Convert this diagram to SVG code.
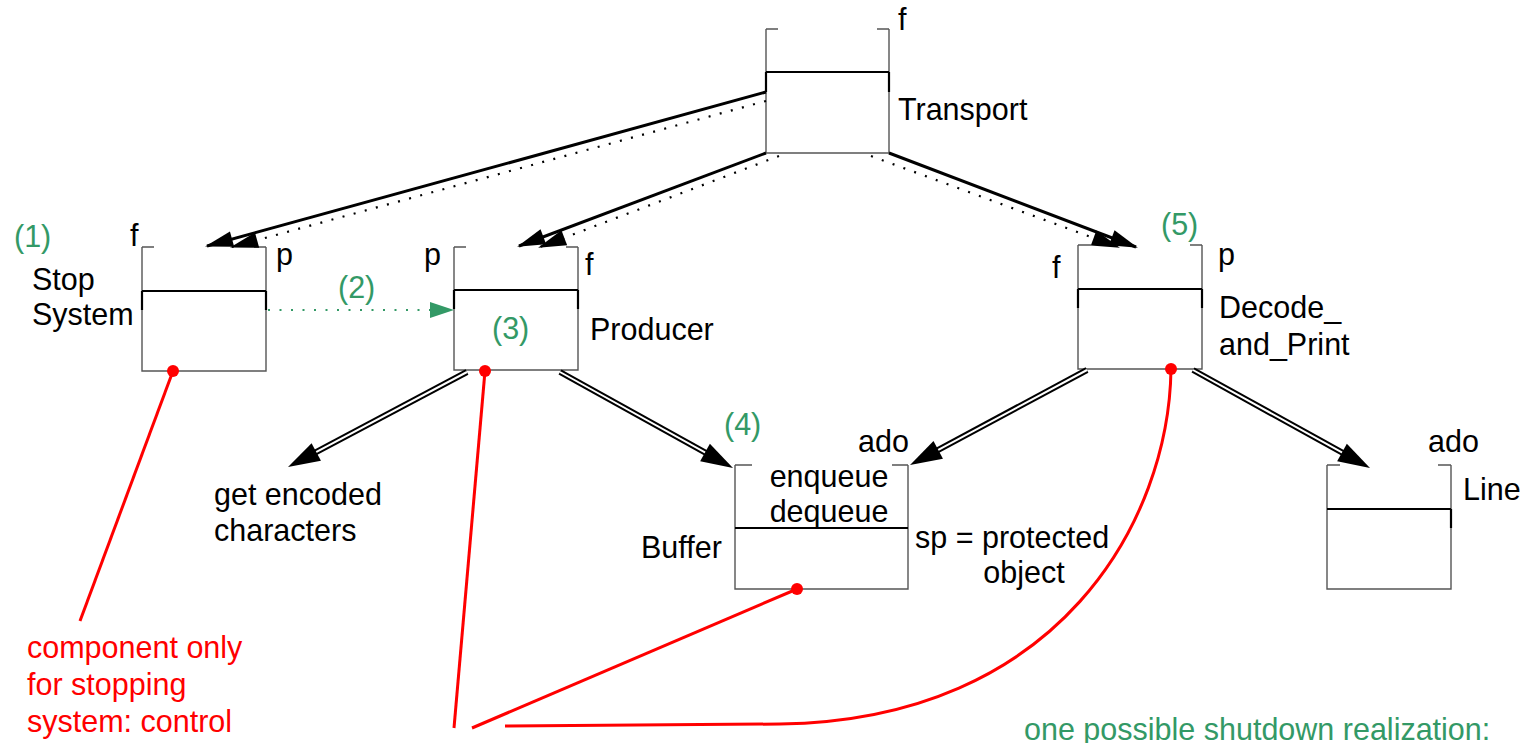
<svg xmlns="http://www.w3.org/2000/svg" width="1524" height="743" viewBox="0 0 1524 743">
  <style>
    text { font-family: "Liberation Sans", Arial, sans-serif; font-size: 30.5px; fill: #000; }
    text.green { fill: #339966; }
    text.red { fill: #ff0000; }
    text.mid { text-anchor: middle; }
    .side { fill: none; stroke: #555; stroke-width: 1.4; }
    .div { fill: none; stroke: #000; stroke-width: 2.2; }
    .thick { fill: none; stroke: #000; stroke-width: 2.2; }
    .solid { fill: none; stroke: #000; stroke-width: 3; }
    .dot { fill: none; stroke: #000; stroke-width: 2.2; stroke-dasharray: 2 9.5; }
    .gdot { fill: none; stroke: #339966; stroke-width: 2.2; stroke-dasharray: 2 9.5; }
    .dbl-out { fill: none; stroke: #000; stroke-width: 6; }
    .dbl-in { fill: none; stroke: #fff; stroke-width: 2; }
    .head { fill: none; stroke: none; }
    .redline { fill: none; stroke: #ff0000; stroke-width: 3; }
    .reddot { fill: #ff0000; }
  </style>
  <defs>
    <marker id="ah" markerUnits="userSpaceOnUse" markerWidth="30" markerHeight="18" refX="26" refY="8" orient="auto" overflow="visible">
      <path d="M0,0 L28,8 L0,16 Z" fill="#000" stroke="none"/>
    </marker>
    <marker id="ahd" markerUnits="userSpaceOnUse" markerWidth="34" markerHeight="22" refX="20" refY="10" orient="auto" overflow="visible">
      <path d="M0,0 L32,10 L0,20 Z" fill="#000" stroke="none"/>
    </marker>
  </defs>

  <!-- components -->
  <g id="transport">
    <path class="side" d="M766,29 V153 H889 V29 M766,29 h12 M889,29 h-12"/>
    <path class="div" d="M766,72 H889"/>
    <path class="thick" d="M766,72 v20 M889,72 v20"/>
    <text x="898" y="30">f</text>
    <text x="898" y="120">Transport</text>
  </g>

  <g id="stop-system">
    <path class="side" d="M142,247 V371 H266 V247 M142,247 h12 M266,247 h-12"/>
    <path class="div" d="M142,291 H266"/>
    <path class="thick" d="M142,291 v19 M266,291 v19"/>
    <text class="green" x="14" y="247">(1)</text>
    <text x="130" y="246">f</text>
    <text x="276" y="265">p</text>
    <text x="32" y="290">Stop</text>
    <text x="32" y="325">System</text>
  </g>

  <g id="producer">
    <path class="side" d="M454,247 V370 H578 V247 M454,247 h12 M578,247 h-12"/>
    <path class="div" d="M454,290 H578"/>
    <path class="thick" d="M454,290 v19 M578,290 v19"/>
    <text x="424" y="265">p</text>
    <text x="585" y="275">f</text>
    <text class="green" x="492" y="339">(3)</text>
    <text x="590" y="340">Producer</text>
  </g>

  <g id="decode-and-print">
    <path class="side" d="M1078,245 V369 H1202 V245 M1078,245 h13 M1202,245 h-12"/>
    <path class="div" d="M1078,289 H1202"/>
    <path class="thick" d="M1078,289 v19 M1202,289 v19"/>
    <text class="green" x="1161" y="235">(5)</text>
    <text x="1052" y="278">f</text>
    <text x="1218" y="265">p</text>
    <text x="1219" y="318">Decode_</text>
    <text x="1219" y="355">and_Print</text>
  </g>

  <g id="buffer">
    <path class="side" d="M735,465 V589 H908 V465 M735,465 h17 M908,465 h-16"/>
    <path class="div" d="M735,528 H908"/>
    <text class="green" x="724" y="435">(4)</text>
    <text x="858" y="452">ado</text>
    <text class="mid" x="829" y="487">enqueue</text>
    <text class="mid" x="829" y="522">dequeue</text>
    <text x="641" y="558">Buffer</text>
    <text x="915" y="548">sp = protected</text>
    <text class="mid" x="1024" y="583">object</text>
  </g>

  <g id="line">
    <path class="side" d="M1327,465 V589 H1451 V465 M1327,465 h13 M1451,465 h-13"/>
    <path class="div" d="M1327,509 H1451"/>
    <path class="thick" d="M1451,509 v19"/>
    <text x="1428" y="452">ado</text>
    <text x="1463" y="500">Line</text>
  </g>

  <g id="get-encoded-characters">
    <text x="214" y="505">get encoded</text>
    <text x="214" y="541">characters</text>
  </g>

  <!-- connectors -->
  <g id="connectors">
    <!-- Transport to its children: solid and dotted -->
    <path class="solid" marker-end="url(#ah)" d="M766,92 L207,246"/>
    <path class="dot" marker-end="url(#ah)" d="M766,101 L232,247"/>
    <path class="solid" marker-end="url(#ah)" d="M766,153 L519,246"/>
    <path class="dot" marker-end="url(#ah)" d="M779,156 L540,247"/>
    <path class="solid" marker-end="url(#ah)" d="M889,153 L1136,247"/>
    <path class="dot" marker-end="url(#ah)" d="M871,156 L1118,247"/>

    <!-- Stop System to Producer -->
    <path class="gdot" d="M268,310 L432,310"/>
    <polygon points="430,302 454,310 430,318" fill="#339966"/>
    <text class="green" x="338" y="298">(2)</text>

    <!-- double-line arrows -->
    <g id="dbl1">
      <path class="dbl-out" d="M467,372 L298.6,461.4"/>
      <path class="dbl-in" d="M467,372 L298.6,461.4"/>
      <path class="head" marker-end="url(#ahd)" d="M467,372 L298.6,461.4"/>
    </g>
    <g id="dbl2">
      <path class="dbl-out" d="M560,372 L722.5,462.2"/>
      <path class="dbl-in" d="M560,372 L722.5,462.2"/>
      <path class="head" marker-end="url(#ahd)" d="M560,372 L722.5,462.2"/>
    </g>
    <g id="dbl3">
      <path class="dbl-out" d="M1087,370 L920.6,459.3"/>
      <path class="dbl-in" d="M1087,370 L920.6,459.3"/>
      <path class="head" marker-end="url(#ahd)" d="M1087,370 L920.6,459.3"/>
    </g>
    <g id="dbl4">
      <path class="dbl-out" d="M1193,370 L1359.5,462.2"/>
      <path class="dbl-in" d="M1193,370 L1359.5,462.2"/>
      <path class="head" marker-end="url(#ahd)" d="M1193,370 L1359.5,462.2"/>
    </g>

    <!-- red annotations -->
    <path class="redline" d="M173,371 L80,621"/>
    <path class="redline" d="M485,371 L454,728"/>
    <path class="redline" d="M797,589 L472,728"/>
    <path class="redline" d="M1171,369 C1169,520 1060,720 780,724 L505,726"/>
    <circle class="reddot" cx="173" cy="371" r="6"/>
    <circle class="reddot" cx="485" cy="371" r="6"/>
    <circle class="reddot" cx="797" cy="589" r="6"/>
    <circle class="reddot" cx="1171" cy="369" r="6"/>
  </g>

  <g id="notes">
    <text class="red" x="27" y="658">component only</text>
    <text class="red" x="27" y="695">for stopping</text>
    <text class="red" x="27" y="732">system: control</text>
    <text class="green" x="1024" y="740">one possible shutdown realization:</text>
  </g>
</svg>
